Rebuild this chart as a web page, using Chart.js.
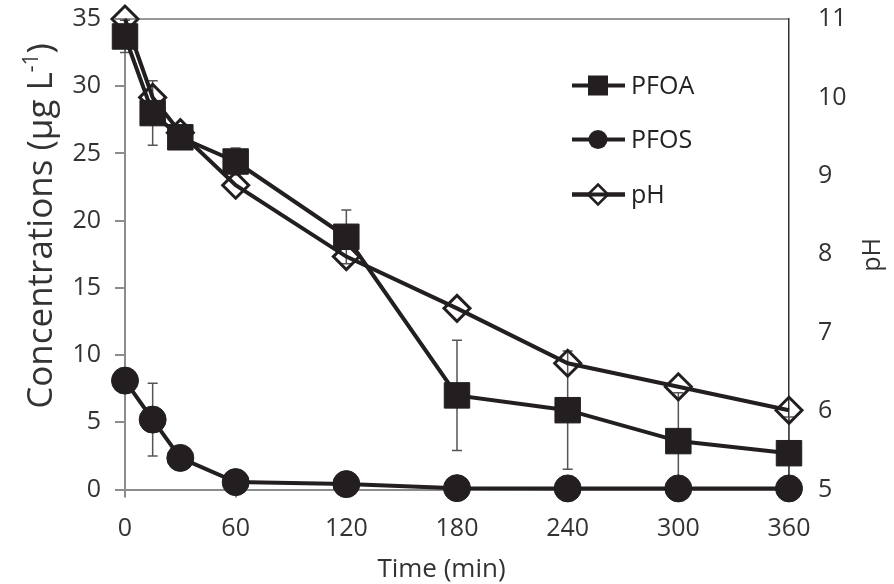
<!DOCTYPE html>
<html>
<head>
<meta charset="utf-8">
<script src="https://cdn.jsdelivr.net/npm/chart.js@4.4.0/dist/chart.umd.min.js"></script>
<style>
  html, body { margin: 0; padding: 0; background: #fff; }
  #wrap { width: 894px; height: 584px; }
</style>
</head>
<body>
<div id="wrap"><canvas id="c" width="894" height="584"></canvas></div>
<script>
// ---- data ----
const times    = [0, 15, 30, 60, 120, 180, 240, 300, 360];
const pfoa     = [33.7, 28.0, 26.2, 24.4, 18.8, 7.0, 5.9, 3.6, 2.7];
const pfoaErr  = [1.2, 2.4, 0, 1.0, 2.0, 4.1, 4.4, 3.6, 2.7];
const pfos     = [8.1, 5.2, 2.35, 0.55, 0.4, 0.1, 0.08, 0.08, 0.08];
const pfosErr  = [0, 2.7, 0, 0, 0, 0, 0, 0, 0];
const ph       = [11.0, 10.0, 9.55, 8.88, 7.97, 7.31, 6.61, 6.31, 6.01];
const xTicks   = [0, 60, 120, 180, 240, 300, 360];
const seriesNames = ['PFOA', 'PFOS', 'pH'];

const INK = '#231f20';
const AXIS_GRAY = '#8c8c8c';
const TEXT = '#333333';
const FONT = '"Open Sans", "Liberation Sans", sans-serif';

const toXY = (ys) => times.map((t, i) => ({ x: t, y: ys[i] }));

function markerPath(ctx, style, x, y, r) {
  ctx.beginPath();
  if (style === 'rect') {
    ctx.rect(x - r, y - r, 2 * r, 2 * r);
  } else if (style === 'circle') {
    ctx.arc(x, y, r, 0, Math.PI * 2);
  } else if (style === 'rectRot') {
    ctx.moveTo(x, y - r); ctx.lineTo(x + r, y); ctx.lineTo(x, y + r); ctx.lineTo(x - r, y); ctx.closePath();
  }
}

const decorPlugin = {
  id: 'decor',
  beforeDatasetsDraw(chart) {
    const ctx = chart.ctx;
    const xs = chart.scales.x;
    chart.data.datasets.forEach((ds) => {
      if (!ds.errors) return;
      const ys = chart.scales[ds.yAxisID];
      ctx.save();
      ctx.strokeStyle = '#555555';
      ctx.lineWidth = 1.5;
      ds.data.forEach((p, i) => {
        const e = ds.errors[i];
        if (!e) return;
        const px = xs.getPixelForValue(p.x);
        const top = ys.getPixelForValue(p.y + e);
        const bot = ys.getPixelForValue(Math.max(p.y - e, ys.min));
        ctx.beginPath();
        ctx.moveTo(px, top); ctx.lineTo(px, bot);
        ctx.moveTo(px - 5, top); ctx.lineTo(px + 5, top);
        if (p.y - e >= ys.min) { ctx.moveTo(px - 5, bot); ctx.lineTo(px + 5, bot); }
        ctx.stroke();
      });
      ctx.restore();
    });
  },
  afterDraw(chart) {
    const ctx = chart.ctx;
    const a = chart.chartArea;
    ctx.save();
    ctx.strokeStyle = '#333333';
    ctx.lineWidth = 1.2;
    ctx.beginPath();
    ctx.moveTo(a.left, a.top); ctx.lineTo(a.right, a.top);
    ctx.stroke();

    // legend
    const rows = [a.top + 66.5, a.top + 120.5, a.top + 175.5];
    const lx1 = a.right - 217, lx2 = a.right - 164, mx = a.right - 191, tx = a.right - 158;
    chart.data.datasets.forEach((ds, i) => {
      const y = rows[i];
      ctx.strokeStyle = INK;
      ctx.lineWidth = 4;
      ctx.beginPath(); ctx.moveTo(lx1, y); ctx.lineTo(lx2, y); ctx.stroke();
      const st = ds.pointStyle;
      if (st === 'rectRot') {
        markerPath(ctx, st, mx, y, 10);
        ctx.fillStyle = '#ffffff'; ctx.fill();
        ctx.lineWidth = 2.5; ctx.stroke();
        ctx.beginPath(); ctx.moveTo(lx1, y); ctx.lineTo(lx2, y); ctx.lineWidth = 4; ctx.stroke();
      } else {
        markerPath(ctx, st, mx, y, st === 'rect' ? 10 : 9.5);
        ctx.fillStyle = INK; ctx.fill();
      }
      ctx.fillStyle = '#222222';
      ctx.font = '25px ' + FONT;
      ctx.textAlign = 'left';
      ctx.textBaseline = 'middle';
      ctx.fillText(ds.label, tx, y + 1);
    });

    ctx.fillStyle = TEXT;
    // left title with superscript
    ctx.save();
    ctx.translate(40, 226);
    ctx.rotate(-Math.PI / 2);
    const big = '35px ' + FONT, small = '21px ' + FONT;
    const p1 = 'Concentrations (\u03bcg L', p2 = '-1', p3 = ')';
    ctx.font = big; const w1 = ctx.measureText(p1).width, w3 = ctx.measureText(p3).width;
    ctx.font = small; const w2 = ctx.measureText(p2).width;
    const total = w1 + w2 + w3;
    let cx = -total / 2;
    ctx.textAlign = 'left'; ctx.textBaseline = 'alphabetic';
    const base = 12;
    ctx.font = big; ctx.fillText(p1, cx, base); cx += w1;
    ctx.font = small; ctx.fillText(p2, cx, base - 14); cx += w2;
    ctx.font = big; ctx.fillText(p3, cx, base);
    ctx.restore();

    // x title
    ctx.font = '26px ' + FONT;
    ctx.textAlign = 'center'; ctx.textBaseline = 'alphabetic';
    ctx.fillText('Time (min)', 441.5, 577);

    // right title
    ctx.save();
    ctx.translate(880, 255);
    ctx.rotate(-Math.PI / 2);
    ctx.font = '25px ' + FONT;
    ctx.textAlign = 'center'; ctx.textBaseline = 'alphabetic';
    ctx.fillText('pH', 0, 0);
    ctx.restore();
    ctx.restore();
  }
};

const noPadY = (w) => (s) => { s.width = w; s.paddingTop = 0; s.paddingBottom = 0; };

new Chart(document.getElementById('c'), {
  type: 'line',
  data: {
    datasets: [
      {
        label: seriesNames[0], data: toXY(pfoa), errors: pfoaErr, yAxisID: 'y',
        borderColor: INK, borderWidth: 4, pointStyle: 'rect', pointRadius: 18,
        pointBackgroundColor: INK, pointBorderColor: INK, pointBorderWidth: 1, clip: false
      },
      {
        label: seriesNames[1], data: toXY(pfos), errors: pfosErr, yAxisID: 'y',
        borderColor: INK, borderWidth: 4, pointStyle: 'circle', pointRadius: 13.5,
        pointBackgroundColor: INK, pointBorderColor: INK, pointBorderWidth: 1, clip: false
      },
      {
        label: seriesNames[2], data: toXY(ph), yAxisID: 'y2',
        borderColor: INK, borderWidth: 4, pointStyle: 'rectRot', pointRadius: 13,
        pointBackgroundColor: 'rgba(255,255,255,0)', pointBorderColor: INK, pointBorderWidth: 3, clip: false
      }
    ]
  },
  options: {
    responsive: false,
    animation: false,
    devicePixelRatio: 1,
    layout: { padding: { top: 18.5, left: 0, right: 0, bottom: 0 } },
    plugins: { legend: { display: false }, tooltip: { enabled: false } },
    scales: {
      x: {
        type: 'linear', min: 0, max: 360,
        afterBuildTicks: (s) => { s.ticks = xTicks.map(v => ({ value: v })); },
        afterFit: (s) => { s.height = 94.5; s.paddingLeft = 0; s.paddingRight = 0; },
        ticks: { color: TEXT, font: { family: FONT, size: 25 }, padding: 16 },
        grid: { display: true, drawOnChartArea: false, drawTicks: true, tickLength: 8, color: AXIS_GRAY, lineWidth: 2 },
        border: { display: true, color: AXIS_GRAY, width: 2 }
      },
      y: {
        position: 'left', min: 0, max: 35,
        ticks: { stepSize: 5, color: TEXT, font: { family: FONT, size: 25 }, padding: 14 },
        afterFit: noPadY(125),
        grid: { display: true, drawOnChartArea: false, drawTicks: true, tickLength: 10, color: AXIS_GRAY, lineWidth: 2 },
        border: { display: true, color: AXIS_GRAY, width: 2 }
      },
      y2: {
        position: 'right', min: 5, max: 11,
        ticks: { stepSize: 1, color: TEXT, font: { family: FONT, size: 25 }, padding: 29 },
        afterFit: noPadY(105),
        grid: { display: false, drawTicks: false },
        border: { display: true, color: '#333333', width: 1.5 }
      }
    }
  },
  plugins: [decorPlugin]
});
</script>
</body>
</html>
